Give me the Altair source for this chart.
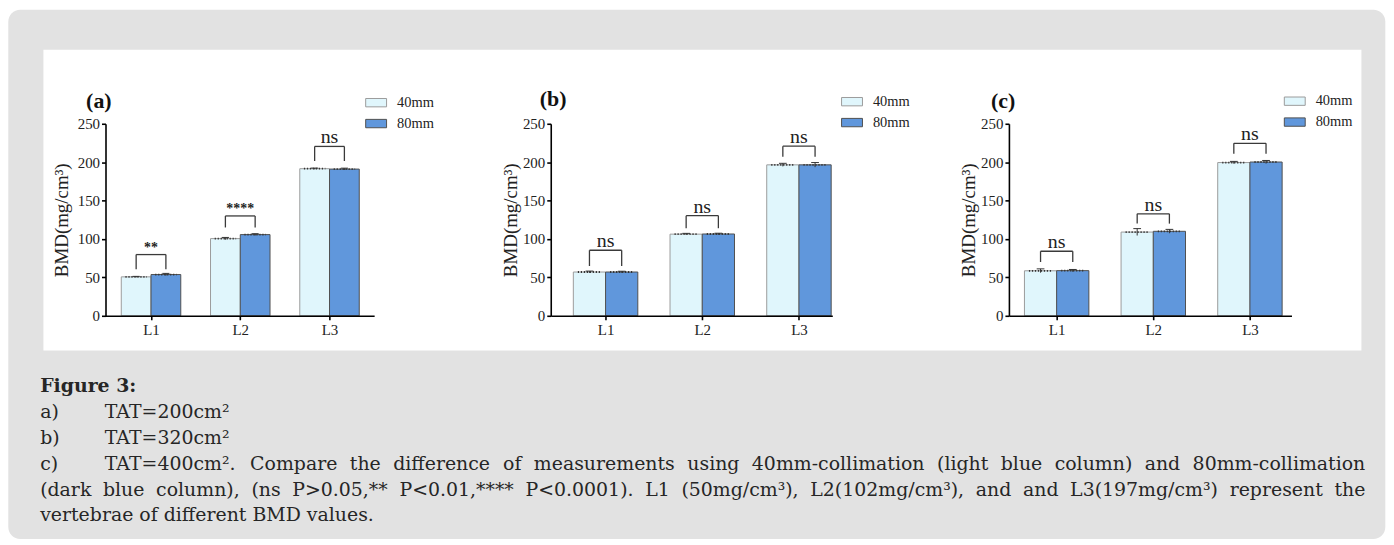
import glob
import os
import struct

import altair as alt
import pandas as pd

# ---------------- data ----------------
panel_names = ["(a)", "(b)", "(c)"]
levels = ["L1", "L2", "L3"]
groups = ["40mm", "80mm"]
bmd_40mm = [[50.7, 100.5, 191.5], [57.0, 106.3, 196.5], [58.6, 109.0, 199.5]]
bmd_80mm = [[53.7, 105.7, 191.0], [57.0, 106.5, 196.5], [58.8, 110.0, 200.2]]
sd_40mm = [[0.6, 1.5, 0.8], [1.2, 1.0, 2.0], [2.5, 4.5, 1.5]]
sd_80mm = [[1.5, 1.2, 1.2], [1.0, 1.0, 3.0], [1.5, 2.5, 2.0]]
sig_label = [["**", "****", "ns"], ["ns", "ns", "ns"], ["ns", "ns", "ns"]]
bracket_top = [[79.7, 130.0, 220.5], [85.3, 130.4, 220.8], [84.0, 132.8, 224.6]]
bracket_foot = [[60.6, 115.0, 201.5], [64.8, 114.0, 207.0], [70.0, 120.0, 211.0]]
y_ticks = [0, 50, 100, 150, 200, 250]
x_ticks = [1, 2, 3]

caption_heading = "Figure 3:"
caption_items = ["a)", "b)", "c)"]
caption_tat = ["TAT=200cm²", "TAT=320cm²",
               "TAT=400cm². Compare the difference of measurements using 40mm-collimation (light blue column) and 80mm-collimation"]
caption_cont = "(dark blue column), (ns P>0.05,** P<0.01,**** P<0.0001). L1 (50mg/cm³), L2(102mg/cm³), and and L3(197mg/cm³) represent the"
caption_last = "vertebrae of different BMD values."

# ---------------- style / layout ----------------
LIGHT = "#e0f6fc"
DARK = "#6097dc"
SERIF = "Liberation Serif"
CAP_FONT = "DejaVu Serif"
CAP_SIZE = 19
CAP_LH = 25.95
CAP_COLOR = "#262626"
PLOT_W = [270, 283, 284]
PLOT_H = 193
SPACING = 177.5
X_DOMAINS = [[0.49, 3.5], [0.433, 3.345], [0.506, 3.43]]
LEGEND_POS = [(261, -32.2), (291.8, -33.2), (276.3, -33.7)]
LABEL_POS = [(-19.5, -22.7), (-11.0, -25.2), (-18.0, -22.7)]
YTITLE_X = [-44, -40, -41]
ORIGIN_X = 105.7          # page x of panel (a) plot origin
CAP_LEFT, CAP_INDENT, CAP_RIGHT = 40.0, 105.0, 1372.0


# ---------- font metrics (to justify the caption like the original) ----------
def _font_widths(fname):
    path = None
    for pat in ["/usr/share/fonts/**/" + fname, "/usr/local/share/fonts/**/" + fname,
                os.path.expanduser("~/.fonts/**/") + fname]:
        hits = glob.glob(pat, recursive=True)
        if hits:
            path = hits[0]
            break
    if path is None:
        return None
    data = open(path, "rb").read()
    ntab = struct.unpack(">H", data[4:6])[0]
    tabs = {}
    for i in range(ntab):
        tag, _cs, off, ln = struct.unpack(">4sIII", data[12 + 16 * i:28 + 16 * i])
        tabs[tag.decode("latin1")] = off
    head = tabs["head"]
    upem = struct.unpack(">H", data[head + 18:head + 20])[0]
    hhea = tabs["hhea"]
    nhm = struct.unpack(">H", data[hhea + 34:hhea + 36])[0]
    hmtx = tabs["hmtx"]
    cmap = tabs["cmap"]
    nsub = struct.unpack(">H", data[cmap + 2:cmap + 4])[0]
    sub = None
    for i in range(nsub):
        pid, eid, off = struct.unpack(">HHI", data[cmap + 4 + 8 * i:cmap + 12 + 8 * i])
        s = cmap + off
        if struct.unpack(">H", data[s:s + 2])[0] == 4 and pid in (0, 3):
            sub = s
            break
    if sub is None:
        return None
    segx2 = struct.unpack(">H", data[sub + 6:sub + 8])[0]
    seg = segx2 // 2
    ends = struct.unpack(">%dH" % seg, data[sub + 14:sub + 14 + segx2])
    starts = struct.unpack(">%dH" % seg, data[sub + 16 + segx2:sub + 16 + 2 * segx2])
    deltas = struct.unpack(">%dh" % seg, data[sub + 16 + 2 * segx2:sub + 16 + 3 * segx2])
    rpos = sub + 16 + 3 * segx2
    roffs = struct.unpack(">%dH" % seg, data[rpos:rpos + segx2])

    def glyph(c):
        for s in range(seg):
            if starts[s] <= c <= ends[s]:
                if roffs[s] == 0:
                    return (c + deltas[s]) & 0xFFFF
                gp = rpos + 2 * s + roffs[s] + 2 * (c - starts[s])
                g = struct.unpack(">H", data[gp:gp + 2])[0]
                return (g + deltas[s]) & 0xFFFF if g else 0
        return 0

    def adv(ch):
        g = min(glyph(ord(ch)), nhm - 1)
        return struct.unpack(">H", data[hmtx + 4 * g:hmtx + 4 * g + 2])[0] / upem

    return lambda text: sum(adv(ch) for ch in text)


try:
    _wfun = _font_widths("DejaVuSerif.ttf")
except Exception:
    _wfun = None
if _wfun is None:
    _wfun = lambda text: 0.56 * len(text)


def justify(text, x0, x1):
    words = text.split(" ")
    ws = [_wfun(w) * CAP_SIZE for w in words]
    gap = (x1 - x0 - sum(ws)) / (len(words) - 1)
    xs, x = [], x0
    for w in ws:
        xs.append(x)
        x += w + gap
    return list(zip(words, xs))


cap_rows = [{"word": caption_heading, "x": CAP_LEFT, "line": 0, "bold": True}]
for k in range(3):
    cap_rows.append({"word": caption_items[k], "x": CAP_LEFT, "line": k + 1, "bold": False})
for k in range(2):
    cap_rows.append({"word": caption_tat[k], "x": CAP_INDENT, "line": k + 1, "bold": False})
for w, x in justify(caption_tat[2], CAP_INDENT, CAP_RIGHT):
    cap_rows.append({"word": w, "x": x, "line": 3, "bold": False})
for w, x in justify(caption_cont, CAP_LEFT, CAP_RIGHT):
    cap_rows.append({"word": w, "x": x, "line": 4, "bold": False})
cap_rows.append({"word": caption_last, "x": CAP_LEFT, "line": 5, "bold": False})
cap_df = pd.DataFrame(cap_rows)
cap_df["x"] = cap_df["x"] - ORIGIN_X


def one_row():
    return pd.DataFrame({"k": [0]})


def make_panel(p):
    bar_rows = []
    for i, lv in enumerate(levels):
        pos = i + 1
        for g, means, sds, lo, hi in ((groups[0], bmd_40mm, sd_40mm, pos - 1 / 3, pos),
                                      (groups[1], bmd_80mm, sd_80mm, pos, pos + 1 / 3)):
            m = means[p][i]
            s = sds[p][i]
            c = (lo + hi) / 2
            bar_rows.append({"level": lv, "group": g, "x0": lo, "x1": hi, "xc": c,
                             "dl": c - 0.12, "dr": c + 0.12, "cl": c - 0.04, "cr": c + 0.04,
                             "v": m, "lo": m - s, "hi": m + s})
    bar_df = pd.DataFrame(bar_rows)

    br_rows = []
    for i, lv in enumerate(levels):
        pos = i + 1
        br_rows.append({"level": lv, "xl": pos - 1 / 6, "xr": pos + 1 / 6, "xm": pos,
                        "v": bracket_top[p][i], "foot": bracket_foot[p][i],
                        "sig": sig_label[p][i]})
    br_df = pd.DataFrame(br_rows)

    xscale = alt.Scale(domain=X_DOMAINS[p], nice=False, zero=False)
    yscale = alt.Scale(domain=[0, 250], nice=False, zero=True)
    xaxis = alt.Axis(values=x_ticks, labelExpr="'L' + datum.value", title=None, grid=False,
                     zindex=2)
    yaxis = alt.Axis(values=y_ticks, title="BMD(mg/cm³)", grid=False, zindex=2,
                     titleX=YTITLE_X[p], titleY=PLOT_H / 2, titleBaseline="middle",
                     titleAlign="center", titleAngle=270)

    def X(f):
        return alt.X(f, type="quantitative", scale=xscale, axis=xaxis)

    def Y(f):
        return alt.Y(f, type="quantitative", scale=yscale, axis=yaxis)

    lx, ly = LEGEND_POS[p]
    bars = alt.Chart(bar_df).mark_bar(strokeWidth=1).encode(
        x=X("x0"), x2="x1", y=Y("v"), y2=alt.datum(0),
        color=alt.Color("group:N", scale=alt.Scale(domain=groups, range=[LIGHT, DARK]),
                        legend=alt.Legend(title=None, orient="none", legendX=lx, legendY=ly,
                                          direction="vertical",
                                          symbolType="M-1,-0.4H1V0.4H-1Z", symbolSize=441,
                                          symbolStrokeColor="#8a8a8a", symbolStrokeWidth=1,
                                          symbolOpacity=1, labelOffset=10, rowPadding=3,
                                          padding=0)),
        stroke=alt.Stroke("group:N", scale=alt.Scale(domain=groups, range=["#9b9b9b", "#505050"]),
                          legend=None),
    )
    err = alt.Chart(bar_df).mark_rule(color="#333333", strokeWidth=1).encode(
        x=X("xc"), y=Y("lo"), y2="hi")
    cap_hi = alt.Chart(bar_df).mark_rule(color="#333333", strokeWidth=1).encode(
        x=X("cl"), x2="cr", y=Y("hi"))
    dots = alt.Chart(bar_df).mark_rule(color="#333333", strokeWidth=1.8,
                                       strokeDash=[1.2, 1.8]).encode(
        x=X("dl"), x2="dr", y=Y("v"))
    br_h = alt.Chart(br_df).mark_rule(color="#3a3a3a", strokeWidth=1.3).encode(
        x=X("xl"), x2="xr", y=Y("v"))
    br_l = alt.Chart(br_df).mark_rule(color="#3a3a3a", strokeWidth=1.3).encode(
        x=X("xl"), y=Y("foot"), y2="v")
    br_r = alt.Chart(br_df).mark_rule(color="#3a3a3a", strokeWidth=1.3).encode(
        x=X("xr"), y=Y("foot"), y2="v")
    ns_txt = alt.Chart(br_df).transform_filter("datum.sig == 'ns'").mark_text(
        font=SERIF, fontSize=20, dy=-3, baseline="alphabetic", align="center",
        color="#222222").encode(x=X("xm"), y=Y("v"), text="sig:N")
    star_txt = alt.Chart(br_df).transform_filter("datum.sig != 'ns'").mark_text(
        font=SERIF, fontSize=14, fontWeight="bold", dy=-3, baseline="alphabetic",
        align="center", color="#222222").encode(x=X("xm"), y=Y("v"), text="sig:N")
    lab = alt.Chart(one_row()).mark_text(
        text=panel_names[p], font=SERIF, fontSize=22, fontWeight="bold", align="left",
        baseline="middle", color="#111111").encode(
        x=alt.value(LABEL_POS[p][0]), y=alt.value(LABEL_POS[p][1]))

    core = alt.layer(bars, err, cap_hi, dots, br_h, br_l, br_r, ns_txt, star_txt)
    if p == 0:
        gray = alt.Chart(one_row()).mark_rect(color="#e2e2e2", cornerRadius=12).encode(
            x=alt.value(-97.7), x2=alt.value(1286.3), y=alt.value(-114.7), y2=alt.value(417.3))
        white = alt.Chart(one_row()).mark_rect(color="#ffffff").encode(
            x=alt.value(-62.4), x2=alt.value(1262.3), y=alt.value(-74.4), y2=alt.value(228))
        cx = alt.X("x:Q", scale=alt.Scale(domain=[0, 1000], range=[0, 1000], nice=False,
                                          zero=False), axis=None)
        cy = alt.Y("line:Q", scale=alt.Scale(domain=[0, 5], range=[270, 270 + 5 * CAP_LH],
                                             nice=False, zero=False), axis=None)
        cap_norm = alt.Chart(cap_df).transform_filter("!datum.bold").mark_text(
            font=CAP_FONT, fontSize=CAP_SIZE, align="left", baseline="alphabetic",
            color=CAP_COLOR).encode(x=cx, y=cy, text="word:N")
        cap_bold = alt.Chart(cap_df).transform_filter("datum.bold").mark_text(
            font=CAP_FONT, fontSize=CAP_SIZE, fontWeight="bold", align="left",
            baseline="alphabetic", color=CAP_COLOR).encode(x=cx, y=cy, text="word:N")
        panel = alt.layer(gray, white, cap_norm, cap_bold, core, lab).resolve_scale(
            x="independent", y="independent")
    else:
        panel = alt.layer(core, lab)
    return panel.properties(width=PLOT_W[p], height=PLOT_H)


chart = alt.hconcat(*[make_panel(p) for p in range(3)], spacing=SPACING, bounds="flush").resolve_scale(
    x="independent", y="independent", color="independent", stroke="independent"
).resolve_legend(color="independent").properties(
    padding=0, background="#ffffff"
).configure_view(strokeWidth=0).configure_axis(
    domainColor="#000000", domainWidth=1.6, tickColor="#000000", tickWidth=1.6, tickSize=4,
    labelFont=SERIF, labelFontSize=15, labelColor="#222222", labelPadding=2,
    titleFont=SERIF, titleFontSize=19, titleColor="#222222", titleFontWeight="normal"
).configure_axisX(labelPadding=3).configure_legend(
    labelFont=SERIF, labelFontSize=14.5, labelColor="#222222"
)

chart.save("out.html", embed_options={"renderer": "svg", "actions": False})
